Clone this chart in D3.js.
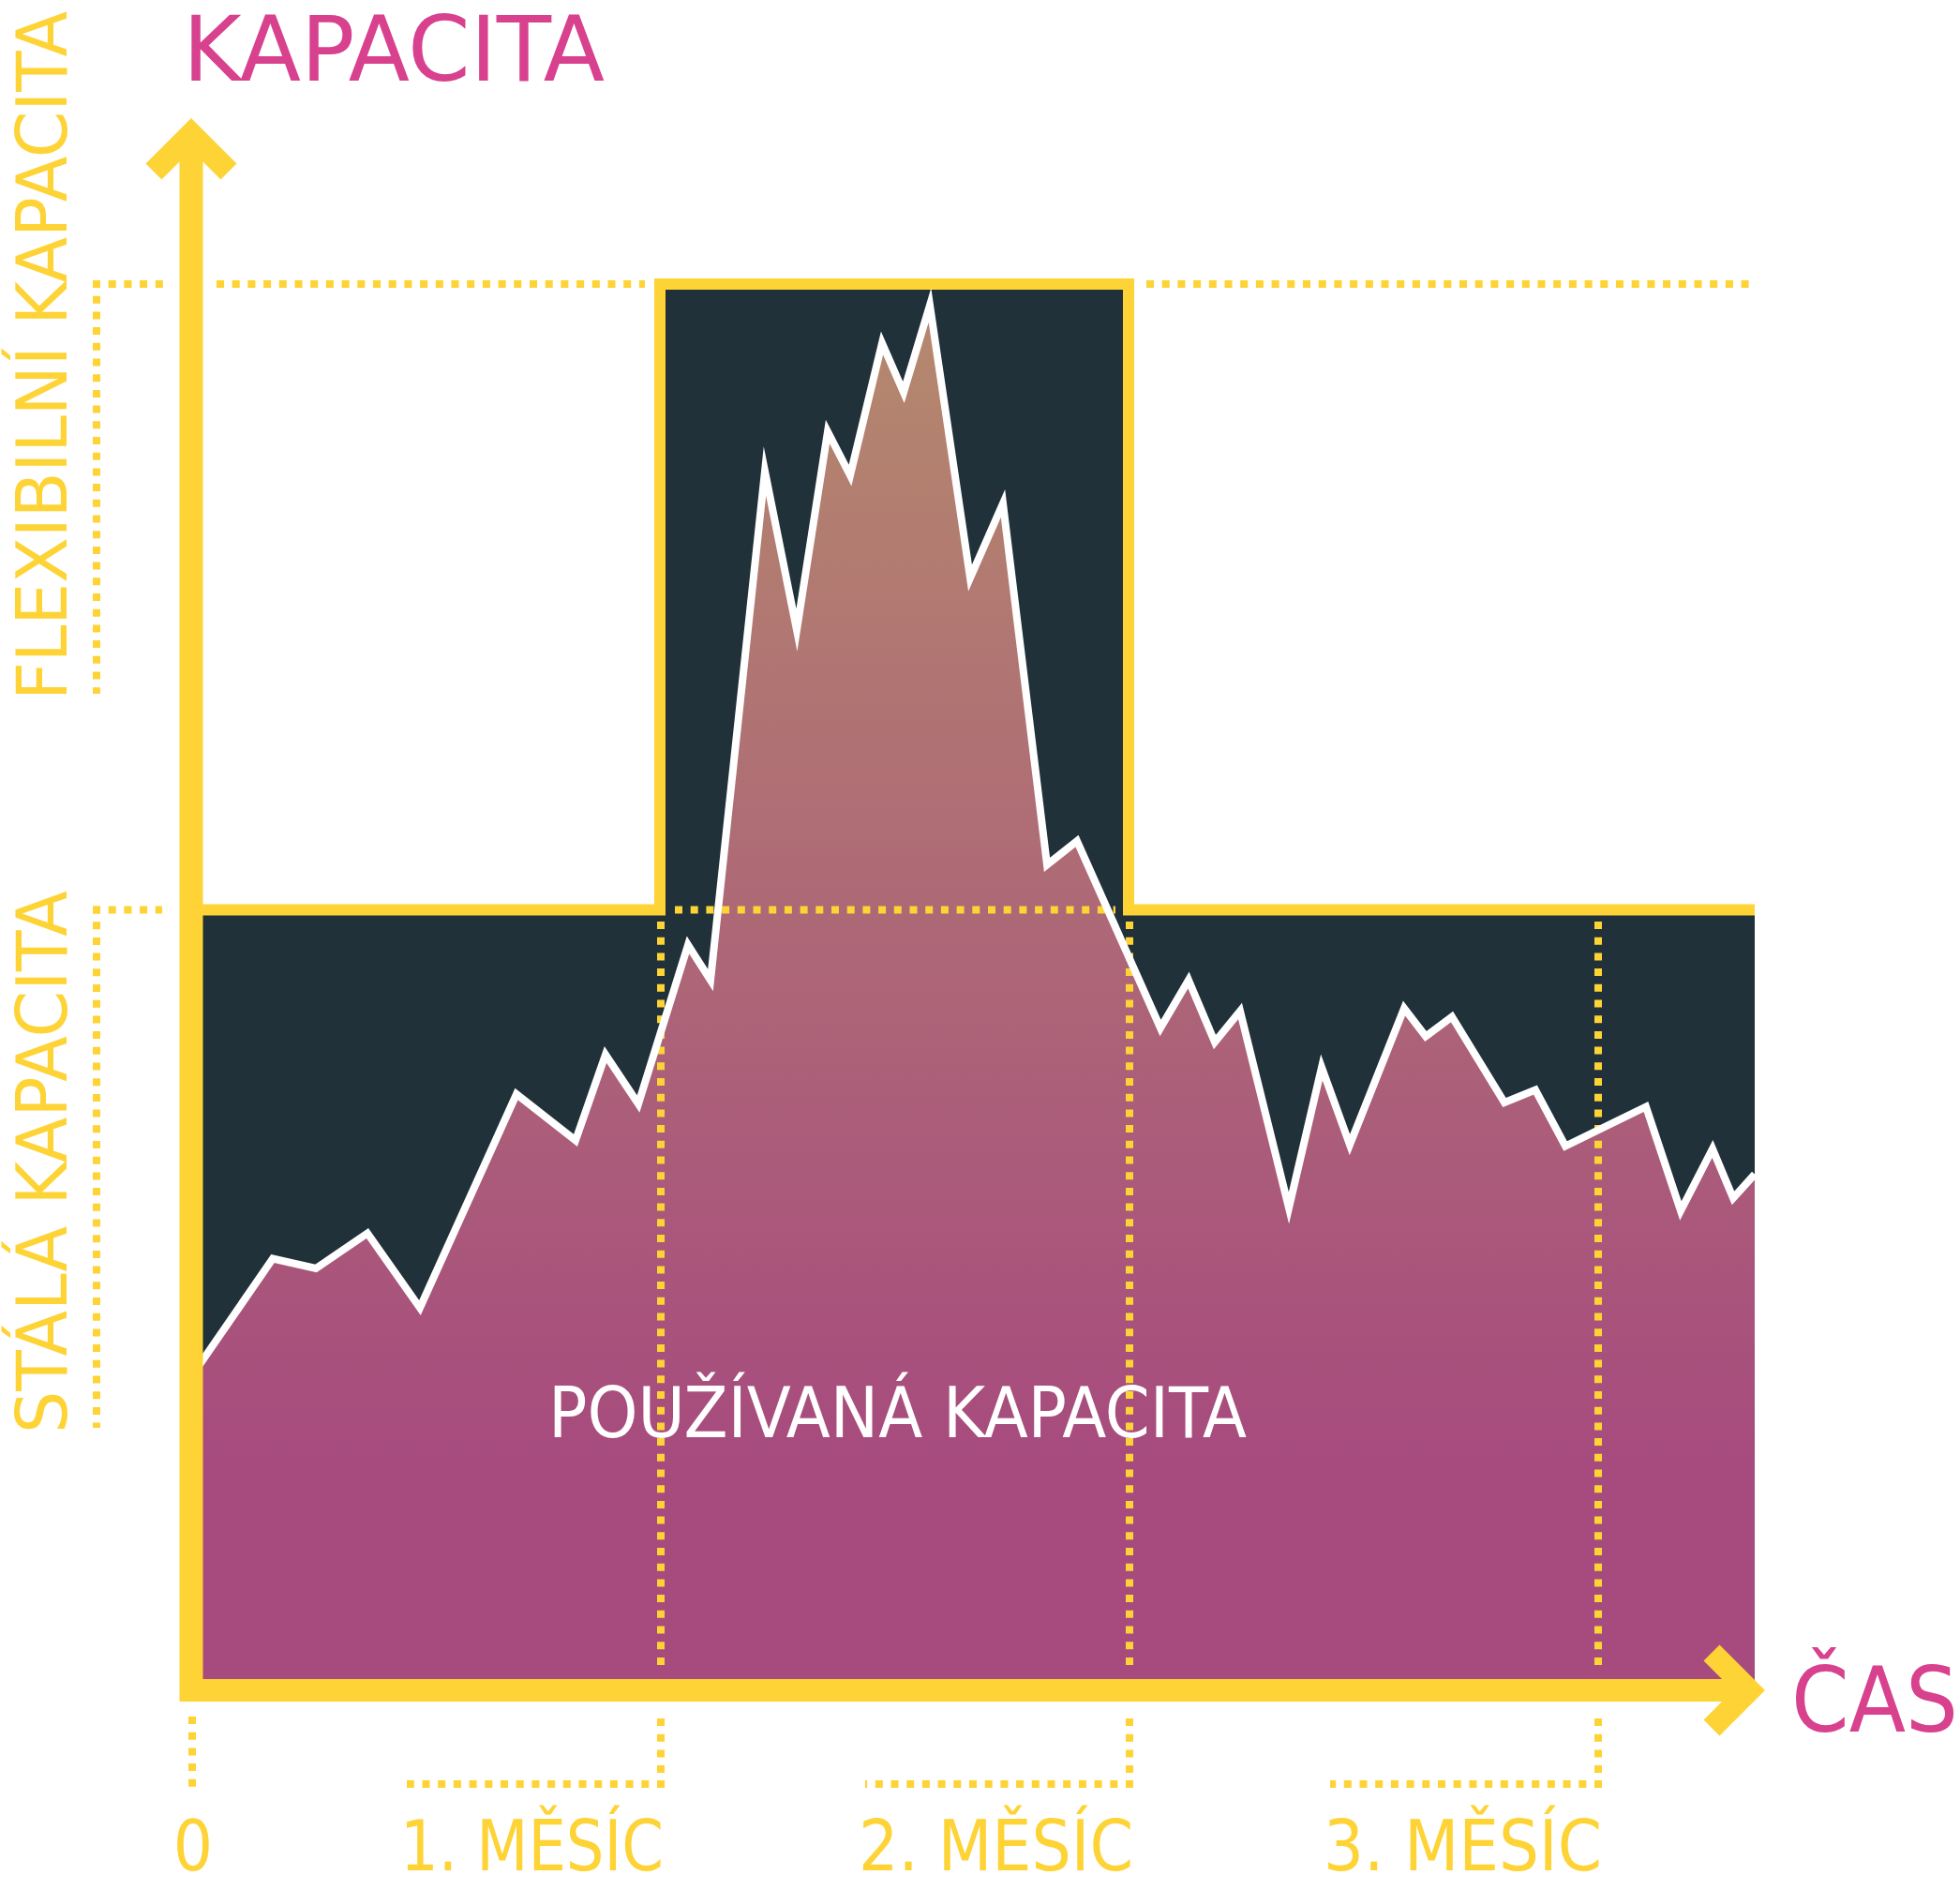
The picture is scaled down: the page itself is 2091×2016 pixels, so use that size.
<!DOCTYPE html>
<html><head><meta charset="utf-8">
<script src="https://cdn.jsdelivr.net/npm/d3@7"></script>
<style>
body{margin:0;background:#fff}
svg{display:block}
text{font-family:"DejaVu Sans Condensed","DejaVu Sans",sans-serif;font-stretch:condensed}
</style>
</head><body>
<svg id="c" width="2091" height="2016"></svg>
<script>
// ---- data ----
const usedTime  = [0, 0.174, 0.266, 0.376, 0.488, 0.694, 0.82, 0.884, 0.954, 1.06, 1.108, 1.224, 1.292, 1.358, 1.406, 1.474, 1.52, 1.576, 1.662, 1.732, 1.826, 1.89, 2.068, 2.128, 2.184, 2.238, 2.342, 2.412, 2.472, 2.588, 2.634, 2.69, 2.802, 2.868, 2.932, 3.104, 3.178, 3.246, 3.29, 3.336];
const usedValue = [22.3, 30.7, 30.0, 32.5, 27.2, 42.4, 39.1, 45.2, 41.7, 53.0, 50.5, 86.7, 75.4, 89.5, 86.4, 95.8, 92.3, 98.5, 79.1, 84.4, 58.7, 60.4, 47.1, 50.5, 46.1, 48.3, 34.3, 44.3, 38.8, 48.5, 46.5, 47.9, 41.8, 42.7, 38.7, 41.5, 34.1, 38.5, 35.0, 36.7];
const capTime   = [0, 1, 1, 2, 2, 3.336];
const capValue  = [55.5, 55.5, 100, 100, 55.5, 55.5];
const monthTicks  = [0, 1, 2, 3];
const monthLabels = ["0", "1. MĚSÍC", "2. MĚSÍC", "3. MĚSÍC"];
const levelValues = [55.5, 100];
const levelLabels = ["STÁLÁ KAPACITA", "FLEXIBILNÍ KAPACITA"];
const yTitle = "KAPACITA", xTitle = "ČAS", areaLabel = "POUŽÍVANÁ KAPACITA";

// ---- style ----
const YELLOW = "#FDD336", PINK = "#D8418E", DARK = "#20313A";
const svg = d3.select("#c");
const x = d3.scaleLinear().domain([0, 1]).range([204, 704]);
const y = d3.scaleLinear().domain([0, 100]).range([1803, 303]);

const used = usedTime.map((t, i) => ({t, v: usedValue[i]}));
const cap = capTime.map((t, i) => ({t, v: capValue[i]}));

const defs = svg.append("defs");
const g = defs.append("linearGradient").attr("id", "grad")
  .attr("gradientUnits", "userSpaceOnUse").attr("x1", 0).attr("x2", 0)
  .attr("y1", y(100)).attr("y2", 1560);
g.append("stop").attr("offset", 0).attr("stop-color", "#B58A6D");
g.append("stop").attr("offset", 1).attr("stop-color", "#A74B7E");

// capacity dark area
svg.append("path")
  .attr("d", d3.area().x(d => x(d.t)).y0(y(0)).y1(d => y(d.v))(cap))
  .attr("fill", DARK);

// used area
svg.append("path")
  .attr("d", d3.area().x(d => x(d.t)).y0(y(0)).y1(d => y(d.v))(used))
  .attr("fill", "url(#grad)");

// dotted helper
function dots(pts) {
  svg.append("path").attr("d", d3.line()(pts))
    .attr("fill", "none").attr("stroke", YELLOW)
    .attr("stroke-width", 8).attr("stroke-dasharray", "8 8.7");
}
const yS = y(levelValues[0]), yF = y(levelValues[1]);
// reference lines
dots([[231, yF], [x(1) - 16, yF]]);
dots([[x(2) + 19, yF], [1867, yF]]);
dots([[720, yS], [1190, yS]]);
// brackets on the left
dots([[99, yF], [174, yF]]);
dots([[103, yF - 4], [103, 740]]);
dots([[99, yS], [173, yS]]);
dots([[103, yS - 4], [103, 1523]]);
// month verticals inside chart
monthTicks.slice(1).forEach(m => dots([[x(m) + 1, 983], [x(m) + 1, 1778]]));

// capacity step outline
svg.append("path")
  .attr("d", d3.line().x(d => x(d.t)).y(d => y(d.v))(cap))
  .attr("fill", "none").attr("stroke", YELLOW).attr("stroke-width", 12)
  .attr("stroke-linejoin", "miter");

// used line
svg.append("path")
  .attr("d", d3.line().x(d => x(d.t)).y(d => y(d.v))(used))
  .attr("fill", "none").attr("stroke", "#fff").attr("stroke-width", 8)
  .attr("stroke-linejoin", "miter").attr("stroke-miterlimit", 30);

// axes
const axisG = svg.append("g").attr("fill", "none").attr("stroke", YELLOW)
  .attr("stroke-width", 24).attr("stroke-linejoin", "miter");
axisG.append("path").attr("d", d3.line()([[x(0), 143], [x(0), 1815]])).attr("stroke-width", 25);
axisG.append("path").attr("d", d3.line()([[192, y(0)], [1866, y(0)]]));
axisG.append("path").attr("d", d3.line()([[x(0) - 40, 183], [x(0), 143], [x(0) + 40, 183]]));
axisG.append("path").attr("d", d3.line()([[1826, y(0) - 40], [1866, y(0)], [1826, y(0) + 40]]));

// below-axis month brackets and labels
const labelInfo = [
  {start: 0, len: 0},
  {start: 427, len: 281},
  {start: 916, len: 293},
  {start: 1412, len: 297}
];
monthTicks.forEach((m, i) => {
  const xm = x(m) + 1;
  if (i === 0) {
    dots([[xm, 1831], [xm, 1906]]);
    svg.append("text").attr("x", xm + 1).attr("y", 1995)
      .attr("text-anchor", "middle").attr("font-size", 74).attr("fill", YELLOW)
      .text(monthLabels[i]);
  } else {
    dots([[xm, 1833], [xm, 1907]]);
    dots([[xm + 4, 1903], [labelInfo[i].start + 7, 1903]]);
    svg.append("text").attr("x", labelInfo[i].start).attr("y", 1995)
      .attr("font-size", 74).attr("fill", YELLOW)
      .attr("textLength", labelInfo[i].len).attr("lengthAdjust", "spacingAndGlyphs")
      .text(monthLabels[i]);
  }
});

// rotated level labels
const levelPos = [{start: 1529, len: 579}, {start: 747, len: 735}];
levelLabels.forEach((lab, i) => {
  svg.append("text")
    .attr("transform", `translate(70.5,${levelPos[i].start}) rotate(-90)`)
    .attr("font-size", 74).attr("fill", YELLOW)
    .attr("textLength", levelPos[i].len).attr("lengthAdjust", "spacingAndGlyphs")
    .text(lab);
});

// titles
svg.append("text").attr("x", 195).attr("y", 86).attr("font-size", 97).attr("fill", PINK)
  .attr("textLength", 450).attr("lengthAdjust", "spacingAndGlyphs").text(yTitle);
svg.append("text").attr("x", 1911).attr("y", 1847).attr("font-size", 97).attr("fill", PINK)
  .attr("textLength", 178).attr("lengthAdjust", "spacingAndGlyphs").text(xTitle);
svg.append("text").attr("x", 585).attr("y", 1533).attr("font-size", 74).attr("fill", "#fff")
  .attr("textLength", 745).attr("lengthAdjust", "spacingAndGlyphs").text(areaLabel);
</script>
</body></html>
